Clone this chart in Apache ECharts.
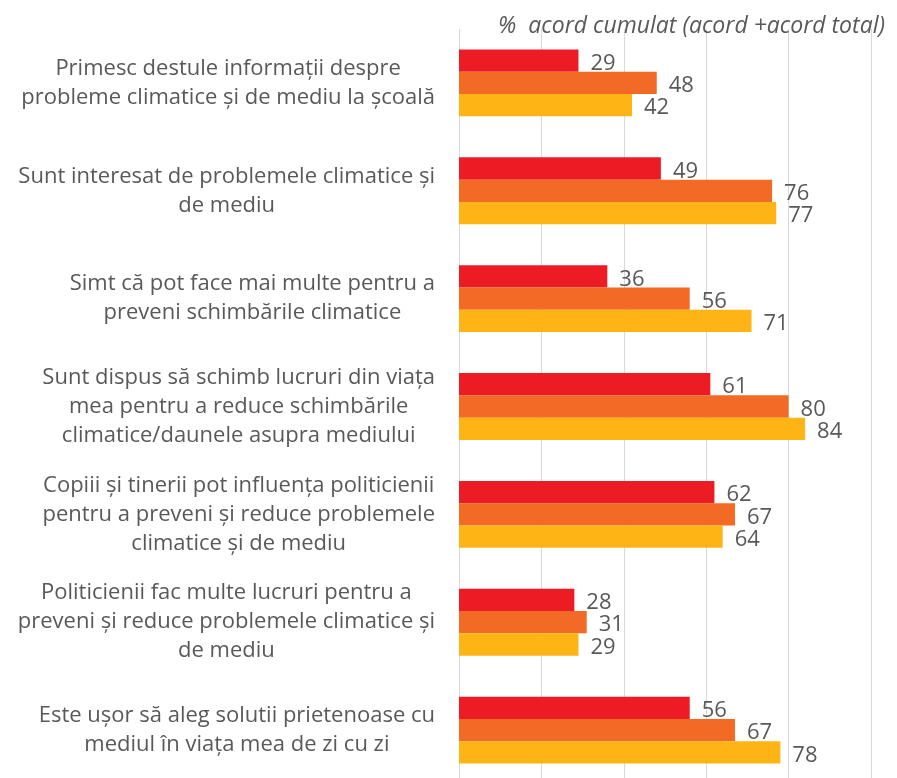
<!DOCTYPE html>
<html>
<head>
<meta charset="utf-8">
<title>acord cumulat</title>
<script src="https://cdn.jsdelivr.net/npm/echarts@6/dist/echarts.min.js"></script>
<style>
  html, body { margin: 0; padding: 0; background: #fff; }
  #chart { width: 897px; height: 778px; }
</style>
</head>
<body>
<div id="chart"></div>
<script>
// categorii (de sus in jos)
var categories = [
  "Primesc destule informații despre\nprobleme climatice și de mediu la școală",
  "Sunt interesat de problemele climatice și\nde mediu",
  "Simt că pot face mai multe pentru a\npreveni schimbările climatice",
  "Sunt dispus să schimb lucruri din viața\nmea pentru a reduce schimbările\nclimatice/daunele asupra mediului",
  "Copiii și tinerii pot influența politicienii\npentru a preveni și reduce problemele\nclimatice și de mediu",
  "Politicienii fac multe lucruri pentru a\npreveni și reduce problemele climatice și\nde mediu",
  "Este ușor să aleg solutii prietenoase cu\nmediul în viața mea de zi cu zi"
];

// valorile celor trei serii (rosu, portocaliu, galben)
var seriesRed = [29, 49, 36, 61, 62, 28, 56];
var seriesOrange = [48, 76, 56, 80, 67, 31, 67];
var seriesYellow = [42, 77, 71, 84, 64, 29, 78];

var xTicks = [0, 20, 40, 60, 80, 100];

var textGray = "#595959";
var font = "Open Sans";

var chart = echarts.init(document.getElementById("chart"));

function barSeries(name, data, color) {
  return {
    name: name,
    type: "bar",
    data: data,
    barGap: "0%",
    barCategoryGap: "38%",
    itemStyle: { color: color },
    label: {
      show: true,
      position: "right",
      distance: 12,
      color: textGray,
      fontFamily: font,
      fontSize: 22,
      offset: [0, 3]
    }
  };
}

var option = {
  animation: false,
  title: {
    text: "%  acord cumulat (acord +acord total)",
    right: 7,
    top: 10,
    textStyle: {
      color: textGray,
      fontFamily: font,
      fontStyle: "italic",
      fontWeight: "normal",
      fontSize: 23
    }
  },
  // grila continua putin sub marginea imaginii
  grid: {
    left: 459,
    right: 26,
    top: 29,
    bottom: -6,
    outerBoundsMode: "none"
  },
  xAxis: {
    type: "value",
    min: xTicks[0],
    max: xTicks[xTicks.length - 1],
    interval: xTicks[1] - xTicks[0],
    axisLabel: { show: false },
    axisLine: { show: false },
    axisTick: { show: false },
    splitLine: { lineStyle: { color: "#d9d9d9", width: 1 } }
  },
  yAxis: {
    type: "category",
    inverse: true,
    data: categories,
    axisLine: { show: false },
    axisTick: { show: false },
    axisLabel: {
      interval: 0,
      margin: 24,
      formatter: function (v) {
        return v.split("\n").map(function (s) { return "{c|" + s + "}"; }).join("\n");
      },
      rich: {
        c: {
          align: "center",
          color: textGray,
          fontFamily: font,
          fontSize: 22,
          lineHeight: 29
        }
      }
    }
  },
  series: [
    barSeries("r", seriesRed, "#ed1c24"),
    barSeries("o", seriesOrange, "#f26a25"),
    barSeries("y", seriesYellow, "#fdb414")
  ]
};

chart.setOption(option);
</script>
</body>
</html>
